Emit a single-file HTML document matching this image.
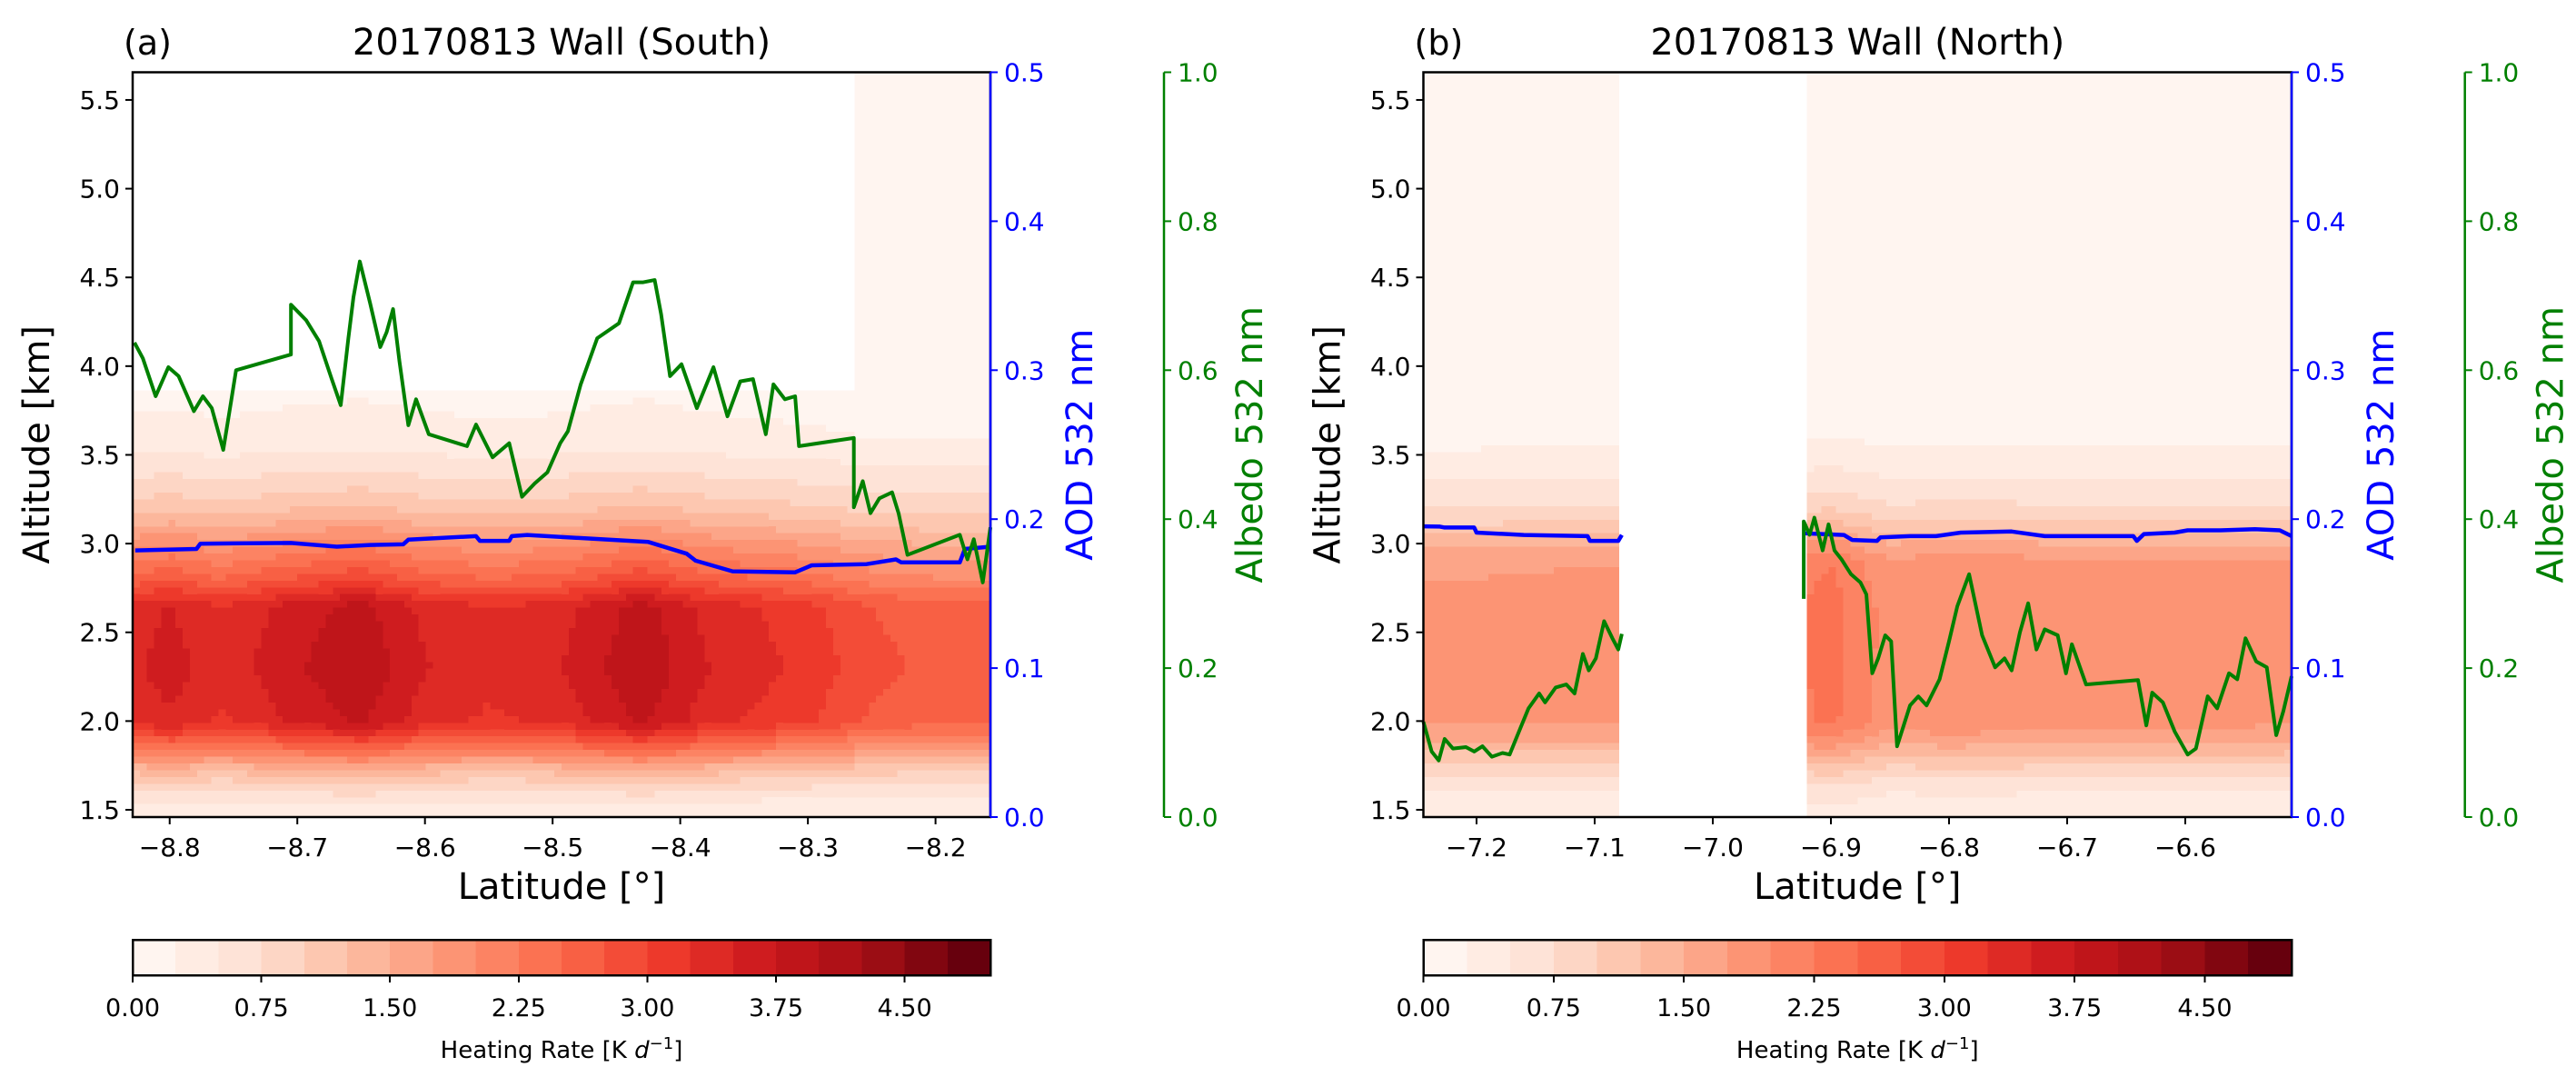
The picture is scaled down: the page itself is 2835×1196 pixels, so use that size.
<!DOCTYPE html>
<html><head><meta charset="utf-8"><style>
html,body{margin:0;padding:0;background:#fff}
svg{display:block;font-family:"DejaVu Sans","Liberation Sans",sans-serif}
</style></head><body>
<svg id="fig" width="2835" height="1196" viewBox="0 0 2835 1196" xmlns="http://www.w3.org/2000/svg"></svg>
<script>
// ---------- data ----------
const levelStep = 0.25;
const cbarTicks = [0, 0.75, 1.5, 2.25, 3.0, 3.75, 4.5];
const cbarTickLabels = ["0.00","0.75","1.50","2.25","3.00","3.75","4.50"];
const altTicks = [1.5,2.0,2.5,3.0,3.5,4.0,4.5,5.0,5.5];
const aodTicks = [0,0.1,0.2,0.3,0.4,0.5];
const albTicks = [0,0.2,0.4,0.6,0.8,1.0];
const latTicksA = [-8.8,-8.7,-8.6,-8.5,-8.4,-8.3,-8.2];
const latTicksB = [-7.2,-7.1,-7.0,-6.9,-6.8,-6.7,-6.6];

// Panel (a) heating field
const aProfAlt = [1.46,1.55,1.65,1.75,1.85,1.95,2.0,2.3,2.65,2.72,2.8,2.9,3.0,3.1,3.2,3.3,3.4,3.5,3.6,3.86];
const aProfVal = [0.3,0.5,0.9,1.5,2.3,3.0,3.3,3.45,3.35,3.0,2.6,2.25,1.9,1.5,1.15,0.9,0.7,0.5,0.3,0.2];
const aScaleLat = [-8.83,-8.8,-8.76,-8.7,-8.65,-8.6,-8.55,-8.5,-8.43,-8.38,-8.3,-8.25,-8.2,-8.157];
const aScaleVal = [1.0,1.05,0.97,1.08,1.15,1.02,0.97,1.0,1.15,1.02,0.92,0.82,0.78,0.78];
const aCapLat = [-8.829,-8.265];
const aCapAlt = [3.87,5.7];

// Panel (b) heating field
const bProfAlt = [1.46,1.6,1.7,1.8,1.9,2.0,2.6,2.9,3.0,3.1,3.2,3.3,3.4,3.5,3.6,3.65,5.7];
const bProfVal = [0.3,0.5,0.8,1.2,1.6,1.85,1.9,1.8,1.5,1.1,0.8,0.6,0.45,0.3,0.2,0.1,0.1];
const bScaleLat = [-7.245,-7.08,-6.92,-6.9,-6.85,-6.8,-6.7,-6.6,-6.51];
const bScaleVal = [0.95,0.97,1.2,1.25,1.0,1.05,1.0,1.0,0.97];
const bGap = [-7.077,-6.923];

// Panel (a) lines
const aAlbLat = [-8.8276,-8.821,-8.811,-8.801,-8.793,-8.781,-8.774,-8.767,-8.758,-8.752,-8.748,-8.705,-8.705,-8.693,-8.683,-8.673,-8.666,-8.66,-8.656,-8.651,-8.643,-8.635,-8.63,-8.625,-8.62,-8.613,-8.607,-8.597,-8.567,-8.56,-8.547,-8.534,-8.524,-8.514,-8.504,-8.494,-8.488,-8.478,-8.465,-8.448,-8.437,-8.429,-8.42,-8.415,-8.408,-8.399,-8.387,-8.374,-8.363,-8.353,-8.343,-8.333,-8.327,-8.318,-8.31,-8.307,-8.264,-8.264,-8.257,-8.251,-8.244,-8.234,-8.229,-8.222,-8.181,-8.175,-8.17,-8.163,-8.157];
const aAlbVal = [0.637,0.616,0.565,0.604,0.592,0.545,0.565,0.549,0.493,0.557,0.600,0.621,0.688,0.667,0.639,0.588,0.553,0.643,0.698,0.746,0.690,0.631,0.651,0.682,0.612,0.526,0.561,0.514,0.498,0.527,0.483,0.502,0.430,0.448,0.463,0.502,0.518,0.581,0.643,0.663,0.718,0.718,0.721,0.675,0.592,0.608,0.549,0.604,0.538,0.585,0.588,0.514,0.581,0.561,0.565,0.498,0.509,0.416,0.451,0.408,0.428,0.436,0.408,0.352,0.379,0.346,0.373,0.315,0.389];
const aAodLat = [-8.827,-8.779,-8.776,-8.705,-8.669,-8.643,-8.617,-8.613,-8.56,-8.557,-8.534,-8.532,-8.52,-8.425,-8.395,-8.388,-8.359,-8.31,-8.297,-8.254,-8.231,-8.227,-8.181,-8.177,-8.157];
const aAodVal = [0.179,0.180,0.1835,0.184,0.1815,0.1827,0.1831,0.1862,0.1886,0.1854,0.1854,0.1886,0.1894,0.1847,0.1768,0.1721,0.165,0.1643,0.169,0.1698,0.173,0.171,0.171,0.180,0.1815];

// Panel (b) lines (two segments separated by data gap)
const bAodLat1 = [-7.245,-7.231,-7.227,-7.202,-7.2,-7.16,-7.106,-7.104,-7.08,-7.077];
const bAodVal1 = [0.1952,0.195,0.1944,0.1944,0.191,0.1894,0.1886,0.1854,0.1854,0.1894];
const bAodLat2 = [-6.923,-6.889,-6.882,-6.861,-6.858,-6.833,-6.811,-6.79,-6.747,-6.719,-6.644,-6.641,-6.635,-6.609,-6.598,-6.57,-6.541,-6.52,-6.51];
const bAodVal2 = [0.1905,0.1894,0.186,0.1854,0.1878,0.1886,0.1886,0.191,0.1917,0.1886,0.1886,0.1854,0.190,0.191,0.1925,0.1925,0.1933,0.1925,0.1886];
const bAlbLat1 = [-7.245,-7.238,-7.232,-7.227,-7.22,-7.209,-7.202,-7.195,-7.187,-7.178,-7.172,-7.163,-7.156,-7.147,-7.142,-7.133,-7.124,-7.117,-7.11,-7.105,-7.099,-7.092,-7.085,-7.08,-7.077];
const bAlbVal1 = [0.128,0.088,0.076,0.105,0.092,0.094,0.088,0.095,0.081,0.086,0.084,0.119,0.146,0.166,0.154,0.174,0.178,0.166,0.219,0.197,0.213,0.263,0.240,0.225,0.246];
const bAlbLat2 = [-6.923,-6.923,-6.918,-6.914,-6.907,-6.902,-6.897,-6.891,-6.883,-6.875,-6.87,-6.865,-6.86,-6.854,-6.849,-6.844,-6.833,-6.826,-6.819,-6.808,-6.8,-6.793,-6.783,-6.772,-6.761,-6.753,-6.747,-6.74,-6.733,-6.726,-6.719,-6.708,-6.701,-6.696,-6.684,-6.64,-6.633,-6.628,-6.619,-6.609,-6.598,-6.591,-6.581,-6.573,-6.563,-6.556,-6.549,-6.54,-6.531,-6.523,-6.517,-6.51];
const bAlbVal2 = [0.293,0.397,0.379,0.402,0.358,0.393,0.358,0.346,0.326,0.315,0.299,0.193,0.213,0.244,0.236,0.095,0.150,0.162,0.150,0.185,0.236,0.283,0.326,0.244,0.201,0.213,0.197,0.248,0.287,0.225,0.252,0.244,0.193,0.232,0.178,0.184,0.123,0.167,0.154,0.115,0.084,0.092,0.162,0.146,0.193,0.185,0.240,0.209,0.201,0.110,0.142,0.189];

// ---------- helpers ----------
const NS = "http://www.w3.org/2000/svg";
const svg = document.getElementById("fig");
function mk(tag, attrs, parent) {
  const e = document.createElementNS(NS, tag);
  for (const k in attrs) e.setAttribute(k, attrs[k]);
  (parent || svg).appendChild(e);
  return e;
}
function interp(xs, ys, x) {
  if (x <= xs[0]) return ys[0];
  if (x >= xs[xs.length-1]) return ys[ys.length-1];
  for (let i = 1; i < xs.length; i++) if (x <= xs[i]) {
    const t = (x - xs[i-1]) / (xs[i] - xs[i-1]);
    return ys[i-1] + t * (ys[i] - ys[i-1]);
  }
}
const redsStops = ["#fff5f0","#fee0d2","#fcbba1","#fc9272","#fb6a4a","#ef3b2c","#cb181d","#a50f15","#67000d"];
function hex2rgb(h){return [1,3,5].map(i=>parseInt(h.substr(i,2),16));}
function reds(t) {
  const p = t * 8, i = Math.min(7, Math.floor(p)), f = p - i;
  const a = hex2rgb(redsStops[i]), b = hex2rgb(redsStops[i+1]);
  return "rgb(" + a.map((v,k)=>Math.round(v + f*(b[k]-v))).join(",") + ")";
}
const nLevels = 20;
const levelColors = [];
for (let i = 0; i < nLevels; i++) levelColors.push(reds(i / (nLevels - 1)));
function txt(s, x, y, o, parent) {
  const t = mk("text", Object.assign({x:x, y:y}, o), parent);
  t.textContent = s;
  return t;
}

// ---------- panel builder ----------
function panel(cfg) {
  const g = mk("g", {});
  
  
  const X = v => cfg.x0 + (v - cfg.lat0) / (cfg.lat1 - cfg.lat0) * (cfg.x1 - cfg.x0);
  const Y = v => cfg.y1 - (v - cfg.alt0) / (cfg.alt1 - cfg.alt0) * (cfg.y1 - cfg.y0);
  const YA = v => cfg.y1 - v / 0.5 * (cfg.y1 - cfg.y0);
  const YB = v => cfg.y1 - v / 1.0 * (cfg.y1 - cfg.y0);

  const hf = mk("g", {"shape-rendering":"crispEdges"}, g);
  
  
  const nCols = 120, nRows = 110;
  const dLat = (cfg.lat1 - cfg.lat0) / nCols, dAlt = (cfg.alt1 - cfg.alt0) / nRows;
  for (let c = 0; c < nCols; c++) {
    const lat = cfg.lat0 + (c + 0.5) * dLat;
    if (cfg.gap && lat > cfg.gap[0] && lat < cfg.gap[1]) continue;
    const sc = interp(cfg.scaleLat, cfg.scaleVal, lat);
    const cap = cfg.capLat ? (lat >= cfg.capLat[1] ? cfg.capAlt[1] : cfg.capAlt[0]) : 99;
    let runStart = 0, runLev = null;
    const flush = (endRow) => {
      if (runLev === null || runLev < 0) return;
      const a0 = cfg.alt0 + runStart * dAlt, a1 = cfg.alt0 + endRow * dAlt;
      let xl = X(cfg.lat0 + c * dLat), xr = X(cfg.lat0 + (c+1) * dLat);
      if (cfg.gap) {
        if (lat < cfg.gap[0]) xr = Math.min(xr, X(cfg.gap[0]));
        if (lat > cfg.gap[1]) xl = Math.max(xl, X(cfg.gap[1]));
      }
      mk("rect", {x:xl.toFixed(1), y:Y(a1).toFixed(1), width:(xr-xl+0.6).toFixed(1), height:(Y(a0)-Y(a1)+0.6).toFixed(1), fill:levelColors[runLev]}, hf);
    };
    for (let r = 0; r < nRows; r++) {
      const alt = cfg.alt0 + (r + 0.5) * dAlt;
      let lev;
      if (alt > cap) lev = -1;
      else if (alt > cfg.profAlt[cfg.profAlt.length-1]) lev = cfg.topLev;
      else {
        const v = interp(cfg.profAlt, cfg.profVal, alt) * sc;
        lev = Math.max(0, Math.min(nLevels - 1, Math.floor(v / levelStep)));
      }
      if (lev !== runLev) { flush(r); runStart = r; runLev = lev; }
    }
    flush(nRows);
  }

  function line(lats, vals, Yf, color, w, nm) {
    const pts = lats.map((l,i)=>X(l).toFixed(1)+","+Yf(vals[i]).toFixed(1)).join(" ");
    const pl = mk("polyline", {points:pts, fill:"none", stroke:color, "stroke-width":w, "stroke-linejoin":"round"}, g);
    
    
  }
  cfg.aod.forEach(s => line(s[0], s[1], YA, "#0000ff", 4.5, "aod-line"));
  cfg.alb.forEach(s => line(s[0], s[1], YB, "#008000", 4, "albedo-line"));

  const fr = mk("rect", {x:cfg.x0, y:cfg.y0, width:cfg.x1-cfg.x0, height:cfg.y1-cfg.y0, fill:"none", stroke:"#000", "stroke-width":2.5}, g);
  
  
  mk("line", {x1:cfg.x1, y1:cfg.y0, x2:cfg.x1, y2:cfg.y1, stroke:"#0000ff", "stroke-width":2.5}, g);
  mk("line", {x1:cfg.xb, y1:cfg.y0, x2:cfg.xb, y2:cfg.y1, stroke:"#008000", "stroke-width":2.5}, g);

  altTicks.forEach(v => {
    const y = Y(v);
    mk("line", {x1:cfg.x0-8, y1:y, x2:cfg.x0, y2:y, stroke:"#000", "stroke-width":2}, g);
    const t = txt(v.toFixed(1), cfg.x0-14, y+10, {"font-size":28, "text-anchor":"end", fill:"#000"}, g);
    
    
  });
  cfg.latTicks.forEach(v => {
    const x = X(v);
    mk("line", {x1:x, y1:cfg.y1, x2:x, y2:cfg.y1+8, stroke:"#000", "stroke-width":2}, g);
    const t = txt(v.toFixed(1).replace("-","\u2212"), x, cfg.y1+43, {"font-size":28, "text-anchor":"middle", fill:"#000"}, g);
    
    
  });
  aodTicks.forEach(v => {
    const y = YA(v);
    mk("line", {x1:cfg.x1, y1:y, x2:cfg.x1+8, y2:y, stroke:"#0000ff", "stroke-width":2}, g);
    const t = txt(v.toFixed(1), cfg.x1+15, y+10, {"font-size":28, fill:"#0000ff"}, g);
    
    
  });
  albTicks.forEach(v => {
    const y = YB(v);
    mk("line", {x1:cfg.xb, y1:y, x2:cfg.xb+8, y2:y, stroke:"#008000", "stroke-width":2}, g);
    const t = txt(v.toFixed(1), cfg.xb+15, y+10, {"font-size":28, fill:"#008000"}, g);
    
    
  });

  const midY = (cfg.y0 + cfg.y1) / 2;
  let t = txt("Altitude [km]", 0, 0, {"font-size":40, "text-anchor":"middle", transform:`translate(${cfg.x0-92},${midY}) rotate(-90)`}, g);
   
  t = txt("AOD 532 nm", 0, 0, {"font-size":40, "text-anchor":"middle", fill:"#0000ff", transform:`translate(${cfg.x1+112},${midY}) rotate(-90)`}, g);
   
  t = txt("Albedo 532 nm", 0, 0, {"font-size":40, "text-anchor":"middle", fill:"#008000", transform:`translate(${cfg.xb+108},${midY}) rotate(-90)`}, g);
   
  t = txt("Latitude [\u00b0]", (cfg.x0+cfg.x1)/2, cfg.y1+90, {"font-size":40, "text-anchor":"middle"}, g);
   
  t = txt(cfg.title, (cfg.x0+cfg.x1)/2, 60, {"font-size":40, "text-anchor":"middle"}, g);
   
  t = txt(cfg.tag, cfg.x0-10, 60, {"font-size":38}, g);
   

  const cb = mk("g", {"shape-rendering":"crispEdges"}, g);
  
  
  const cbx0 = cfg.x0, cbx1 = cfg.x1, cby0 = 1034, cby1 = 1073;
  const CX = v => cbx0 + v / (nLevels*levelStep) * (cbx1 - cbx0);
  for (let i = 0; i < nLevels; i++) {
    mk("rect", {x:CX(i*levelStep), y:cby0, width:CX((i+1)*levelStep)-CX(i*levelStep)+0.5, height:cby1-cby0, fill:levelColors[i]}, cb);
  }
  mk("rect", {x:cbx0, y:cby0, width:cbx1-cbx0, height:cby1-cby0, fill:"none", stroke:"#000", "stroke-width":2.5}, cb);
  cbarTicks.forEach((v,i) => {
    const x = CX(v);
    mk("line", {x1:x, y1:cby1, x2:x, y2:cby1+8, stroke:"#000", "stroke-width":2}, cb);
    const tt = txt(cbarTickLabels[i], x, 1118, {"font-size":27, "text-anchor":"middle"}, cb);
     
  });
  const lab = mk("text", {x:(cbx0+cbx1)/2, y:1164, "font-size":26, "text-anchor":"middle"}, cb);
  lab.innerHTML = 'Heating Rate [K <tspan font-style="italic">d</tspan><tspan dy="-10" font-size="18">\u22121</tspan><tspan dy="10">]</tspan>';
   
}

panel({name:"panel-a-south", tag:"(a)", title:"20170813 Wall (South)",
  x0:146, x1:1090, xb:1281, y0:79.5, y1:899, lat0:-8.829, lat1:-8.157, alt0:1.459, alt1:5.656,
  profAlt:aProfAlt, profVal:aProfVal, scaleLat:aScaleLat, scaleVal:aScaleVal, capLat:aCapLat, capAlt:aCapAlt, topLev:0,
  latTicks:latTicksA, aod:[[aAodLat,aAodVal]], alb:[[aAlbLat,aAlbVal]]});
panel({name:"panel-b-north", tag:"(b)", title:"20170813 Wall (North)",
  x0:1566.5, x1:2522, xb:2712.7, y0:79.5, y1:899, lat0:-7.245, lat1:-6.510, alt0:1.459, alt1:5.656,
  profAlt:bProfAlt, profVal:bProfVal, scaleLat:bScaleLat, scaleVal:bScaleVal, gap:bGap, topLev:0,
  latTicks:latTicksB, aod:[[bAodLat1,bAodVal1],[bAodLat2,bAodVal2]], alb:[[bAlbLat1,bAlbVal1],[bAlbLat2,bAlbVal2]]});
</script>
</body></html>
